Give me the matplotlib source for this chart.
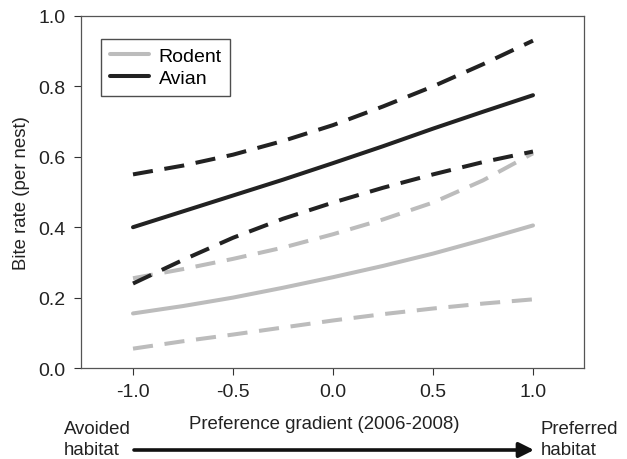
import matplotlib
matplotlib.use("Agg")
import matplotlib.pyplot as plt

plt.rcParams["font.family"] = ["Liberation Sans", "DejaVu Sans"]

# preference gradient
x = [-1.0, -0.75, -0.5, -0.25, 0.0, 0.25, 0.5, 0.75, 1.0]

# bite rate per nest (fitted mean and 95% bounds)
avian_mean = [0.40, 0.445, 0.49, 0.535, 0.582, 0.63, 0.68, 0.728, 0.775]
avian_upper = [0.55, 0.575, 0.606, 0.645, 0.69, 0.743, 0.80, 0.863, 0.93]
avian_lower = [0.24, 0.307, 0.37, 0.424, 0.47, 0.512, 0.55, 0.585, 0.615]
rodent_mean = [0.155, 0.176, 0.20, 0.228, 0.258, 0.29, 0.325, 0.364, 0.405]
rodent_upper = [0.255, 0.281, 0.31, 0.342, 0.38, 0.422, 0.47, 0.533, 0.61]
rodent_lower = [0.055, 0.076, 0.095, 0.115, 0.135, 0.153, 0.169, 0.183, 0.195]

xticks = [-1.0, -0.5, 0.0, 0.5, 1.0]
yticks = [0.0, 0.2, 0.4, 0.6, 0.8, 1.0]

W, H = 627, 460
fig = plt.figure(figsize=(W / 100, H / 100), dpi=100)
ax = fig.add_axes([81 / W, 1 - 369 / H, (584 - 81) / W, (369 - 17) / H])

grey = "#bcbcbc"
dark = "#222222"
lw = 2.9
dash = (0, (5.0, 2.9))

ax.plot(x, rodent_mean, color=grey, lw=lw, solid_capstyle="round", label="Rodent")
ax.plot(x, rodent_upper, color=grey, lw=lw, ls=dash)
ax.plot(x, rodent_lower, color=grey, lw=lw, ls=dash)
ax.plot(x, avian_mean, color=dark, lw=lw, solid_capstyle="round", label="Avian")
ax.plot(x, avian_upper, color=dark, lw=lw, ls=dash)
ax.plot(x, avian_lower, color=dark, lw=lw, ls=dash)

ax.set_xlim(-1.26, 1.255)
ax.set_ylim(0, 1.0)
ax.set_xticks(xticks)
ax.set_xticklabels([f"{v:.1f}" for v in xticks])
ax.set_yticks(yticks)
ax.set_yticklabels([f"{v:.1f}" for v in yticks])
ax.tick_params(direction="out", length=5, width=0.8, labelsize=14, pad=6,
               colors="#333333", labelcolor="#222222")
for s in ax.spines.values():
    s.set_color("#555555")
    s.set_linewidth(0.9)

ax.set_ylabel("Bite rate (per nest)", fontsize=13.4, color="#222222", labelpad=6)

leg = ax.legend(loc="upper left", bbox_to_anchor=(0.04, 0.935), fontsize=14,
                frameon=True, fancybox=False, handlelength=2.0, borderpad=0.45,
                labelspacing=0.22, handletextpad=0.5, borderaxespad=0)
leg.get_frame().set_edgecolor("#222222")
leg.get_frame().set_linewidth(1.0)

# bottom annotation
fig.text(324 / W, 1 - 425 / H, "Preference gradient (2006-2008)", fontsize=13.4,
         ha="center", va="center", color="#222222")
fig.text(64 / W, 1 - 440 / H, "Avoided\nhabitat", fontsize=13.4, ha="left",
         va="center", color="#222222", linespacing=1.3)
fig.text(541 / W, 1 - 440 / H, "Preferred\nhabitat", fontsize=13.4, ha="left",
         va="center", color="#222222", linespacing=1.3)
ax.annotate("", xy=(534, H - 451), xytext=(134, H - 451),
            xycoords="figure pixels", textcoords="figure pixels",
            arrowprops=dict(arrowstyle="-|>,head_length=0.9,head_width=0.45",
                            color="#111111", lw=2.6, shrinkA=0, shrinkB=0))

fig.savefig("out.png", dpi=100)
